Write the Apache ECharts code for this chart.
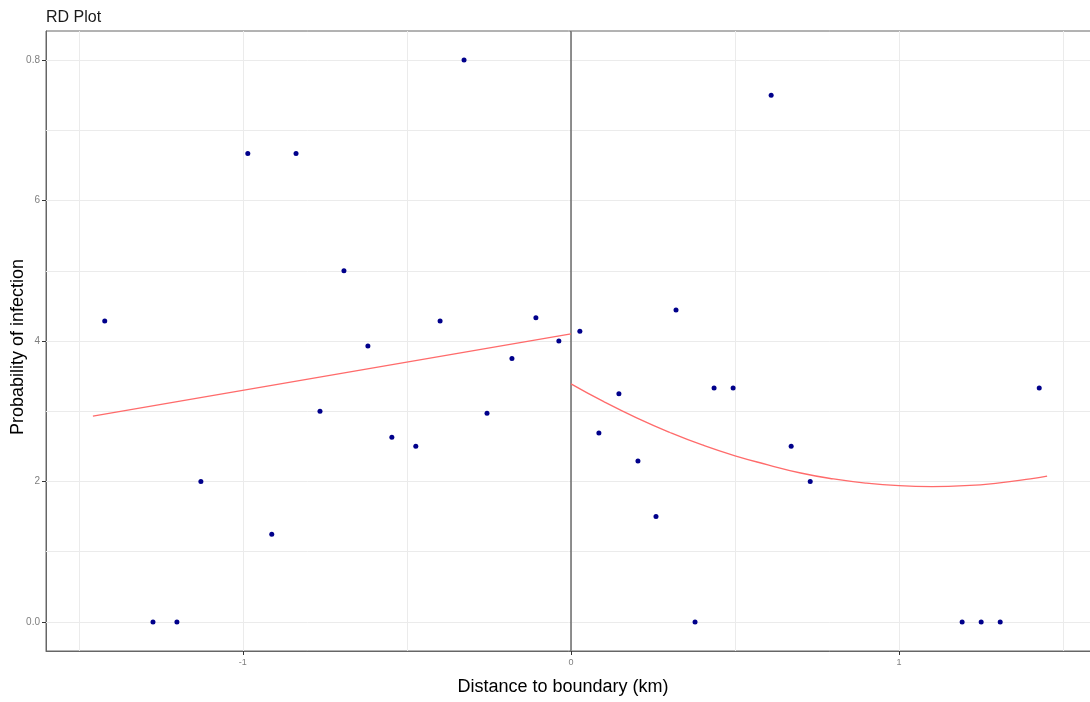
<!DOCTYPE html>
<html>
<head>
<meta charset="utf-8">
<script src="https://cdn.jsdelivr.net/npm/echarts@6/dist/echarts.min.js"></script>
<style>html,body{margin:0;padding:0;background:#fff}#c{width:1090px;height:702px}</style>
</head>
<body>
<div id="c"></div>
<script>
// Binned data points: [distance (km), probability]
const points = [
  [-1.421, 0.4286], [-1.274, 0.0], [-1.201, 0.0], [-1.128, 0.2], [-0.985, 0.667],
  [-0.912, 0.125], [-0.838, 0.667], [-0.765, 0.3], [-0.692, 0.5], [-0.619, 0.393],
  [-0.546, 0.263], [-0.473, 0.25], [-0.399, 0.4286], [-0.326, 0.8], [-0.256, 0.297],
  [-0.180, 0.375], [-0.107, 0.433], [-0.037, 0.4], [0.027, 0.414], [0.085, 0.269],
  [0.146, 0.325], [0.204, 0.229], [0.259, 0.15], [0.320, 0.444], [0.378, 0.0],
  [0.436, 0.333], [0.494, 0.333], [0.610, 0.75], [0.671, 0.25], [0.729, 0.2],
  [1.192, 0.0], [1.250, 0.0], [1.308, 0.0], [1.427, 0.333]
];
// Fitted line left of boundary
const fitLeft = [[-1.457, 0.293], [0.0, 0.410]];
// Fitted curve right of boundary
const fitRight = [
  [0.0, 0.339], [0.1, 0.3136], [0.2, 0.2906], [0.3, 0.2701], [0.4, 0.2520],
  [0.5, 0.2365], [0.6, 0.2238], [0.7, 0.2121], [0.8, 0.2036], [0.9, 0.1976],
  [1.0, 0.194], [1.1, 0.1928], [1.2, 0.194], [1.3, 0.1977], [1.4, 0.2038], [1.451, 0.2078]
];
const boundary = [[0, -0.0413], [0, 0.8413]];
// Tick values and labels
const xTicks = [-1, 0, 1];
const xTickLabels = ['-1', '0', '1'];
const yTicks = [0, 0.2, 0.4, 0.6, 0.8];
const yTickLabels = ['0.0', '2', '4', '6', '0.8'];
const xGridLines = [-1.5, -1, -0.5, 0, 0.5, 1, 1.5];
const yGridLines = [0, 0.1, 0.2, 0.3, 0.4, 0.5, 0.6, 0.7, 0.8];

const chart = echarts.init(document.getElementById('c'), null, {renderer: 'canvas'});
const gridLineStyle = {color: '#ebebeb', width: 1, type: 'solid'};
const markData = xGridLines.map(v => ({xAxis: v}))
  .concat(yGridLines.map(v => ({yAxis: v})));
const FONT = 'Liberation Sans, Arial, sans-serif';

chart.setOption({
  animation: false,
  backgroundColor: '#fff',
  title: {
    text: 'RD Plot', left: 41, top: 5,
    textStyle: {fontFamily: FONT, fontSize: 16, fontWeight: 'normal', color: '#1a1a1a'}
  },
  grid: {
    left: 46, top: 31, right: -6, bottom: 51,
    show: true, borderColor: '#666', borderWidth: 1,
    containLabel: false, outerBoundsMode: 'none'
  },
  xAxis: {
    type: 'value', min: -1.6, max: 1.6,
    name: 'Distance to boundary (km)', nameLocation: 'middle', nameGap: 27, nameMoveOverlap: false,
    nameTextStyle: {fontFamily: FONT, fontSize: 18, color: '#000', padding: [0, 16, 0, 0]},
    axisLine: {show: true, onZero: false, lineStyle: {color: '#666', width: 1}},
    axisTick: {show: true, length: 4, lineStyle: {color: '#333'}, customValues: xTicks},
    axisLabel: {
      show: true, customValues: xTicks, margin: 7,
      fontFamily: FONT, fontSize: 9, color: '#7f7f7f',
      formatter: v => xTickLabels[xTicks.indexOf(Math.round(v * 100) / 100)] ?? ''
    },
    splitLine: {show: false}
  },
  yAxis: {
    type: 'value', min: -0.0413, max: 0.8413,
    name: 'Probability of infection', nameLocation: 'middle', nameGap: 19, nameRotate: 90, nameMoveOverlap: false,
    nameTextStyle: {fontFamily: FONT, fontSize: 18, color: '#000', padding: [0, 12, 0, 0]},
    axisLine: {show: true, onZero: false, lineStyle: {color: '#666', width: 1}},
    axisTick: {show: true, length: 4, lineStyle: {color: '#333'}, customValues: yTicks},
    axisLabel: {
      show: true, customValues: yTicks, margin: 6,
      fontFamily: FONT, fontSize: 10, color: '#7f7f7f',
      formatter: v => yTickLabels[yTicks.indexOf(Math.round(v * 100) / 100)] ?? ''
    },
    splitLine: {show: false}
  },
  series: [
    {
      type: 'line', data: [], silent: true, z: 1,
      markLine: {silent: true, z: 1, symbol: 'none', label: {show: false}, lineStyle: gridLineStyle, data: markData, animation: false}
    },
    {
      type: 'line', data: boundary, showSymbol: false, silent: true,
      lineStyle: {color: '#555', width: 1.3}, z: 3
    },
    {
      type: 'line', data: fitLeft, showSymbol: false, silent: true,
      lineStyle: {color: '#ff6b6b', width: 1.3}, z: 4
    },
    {
      type: 'line', data: fitRight, showSymbol: false, smooth: true, silent: true,
      lineStyle: {color: '#ff6b6b', width: 1.3}, z: 4
    },
    {
      type: 'scatter', data: points, symbolSize: 5,
      itemStyle: {color: '#00008b', opacity: 1}, z: 5
    }
  ]
});
</script>
</body>
</html>
